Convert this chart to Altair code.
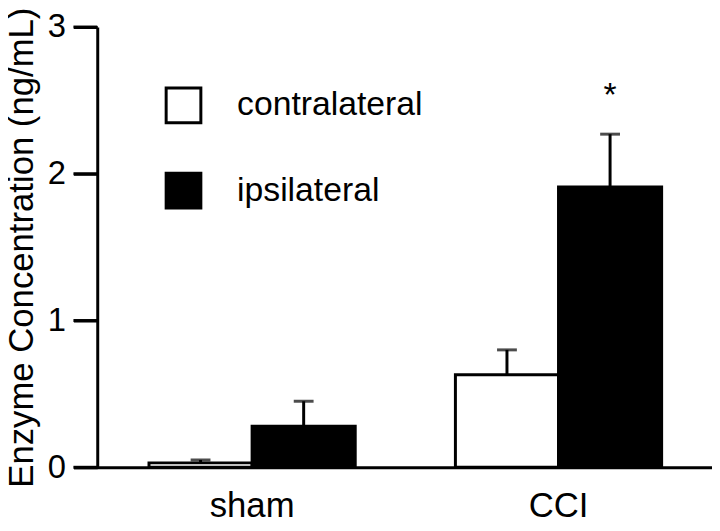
import altair as alt
import pandas as pd

groups = ["sham", "sham", "CCI", "CCI"]
conditions = ["contralateral", "ipsilateral", "contralateral", "ipsilateral"]
means = [0.03, 0.28, 0.63, 1.91]
upper = [0.05, 0.45, 0.80, 2.27]
marks = ["", "", "", "*"]
y_ticks = [0, 1, 2, 3]

df = pd.DataFrame({"group": groups, "condition": conditions, "mean": means,
                   "upper": upper, "sig": marks})
tick_df = pd.DataFrame({"tick": y_ticks})

FONT = "Liberation Sans"

x_scale = alt.Scale(paddingInner=0.327, paddingOuter=0.2055, align=0.6)
xo_scale = alt.Scale(paddingInner=0, paddingOuter=0)
y_scale = alt.Scale(domain=[0, 3], nice=False)

x_axis = alt.Axis(title=None)
y_axis = alt.Axis(values=y_ticks, format="d", title="Enzyme Concentration (ng/mL)")

X = alt.X("group:N", sort=["sham", "CCI"], scale=x_scale, axis=x_axis)
XO = alt.XOffset("condition:N", sort=["contralateral", "ipsilateral"], scale=xo_scale)

bars = alt.Chart(df).mark_bar(stroke="black", strokeWidth=3).encode(
    x=X, xOffset=XO,
    y=alt.Y("mean:Q", scale=y_scale, axis=y_axis),
    fill=alt.Fill("condition:N",
                  scale=alt.Scale(domain=["contralateral", "ipsilateral"],
                                  range=["white", "black"]),
                  legend=alt.Legend(title=None, orient="none", legendX=92, legendY=60,
                                    symbolType="square", symbolSize=1225,
                                    symbolStrokeColor="black", symbolStrokeWidth=3,
                                    labelFontSize=34, labelFont=FONT, labelLimit=0,
                                    labelColor="black", rowPadding=38,
                                    labelOffset=35, padding=0)),
)

err = alt.Chart(df).mark_rule(color="black", strokeWidth=3).encode(
    x=X, xOffset=XO, y=alt.Y("mean:Q", scale=y_scale, axis=y_axis), y2="upper:Q")

caps = alt.Chart(df).mark_tick(color="black", thickness=3, size=20).encode(
    x=X, xOffset=XO, y=alt.Y("upper:Q", scale=y_scale, axis=y_axis))

stars = alt.Chart(df).mark_text(fontSize=34, font=FONT, color="black",
                                baseline="alphabetic", dy=-28).encode(
    x=X, xOffset=XO, y=alt.Y("upper:Q", scale=y_scale, axis=y_axis), text="sig:N")

# y-axis tick marks, positioned by the y scale (axis sits 24px inside the view)
yticks = alt.Chart(tick_df).mark_rule(color="black", strokeWidth=3, clip=False).encode(
    y=alt.Y("tick:Q", scale=y_scale, axis=y_axis),
    x=alt.value(0), x2=alt.value(24))

chart = alt.layer(bars, err, caps, stars, yticks).properties(
    width=644, height=444,
    background="white",
    autosize=alt.AutoSizeParams(type="none"),
    padding={"left": 66, "top": 17, "right": 0, "bottom": 54},
).configure_view(
    stroke=None
).configure_axis(
    zindex=1,
    grid=False, domainColor="black", domainWidth=3,
    labelFont=FONT, labelColor="black",
    titleFont=FONT, titleColor="black", titleFontWeight="normal",
).configure_axisY(
    offset=-24,
    ticks=True, tickColor="black", tickWidth=3, tickSize=24, tickOpacity=1,
    labelFontSize=33, labelPadding=8,
    titleFontSize=35, titleAngle=270, titleX=-65, titleY=222,
    titleAlign="center", titleBaseline="alphabetic",
).configure_axisX(
    ticks=False, labelAngle=0, labelFontSize=35,
    labelBaseline="alphabetic", labelPadding=50,
)

chart.save("out.html", embed_options={"renderer": "svg", "actions": False})
